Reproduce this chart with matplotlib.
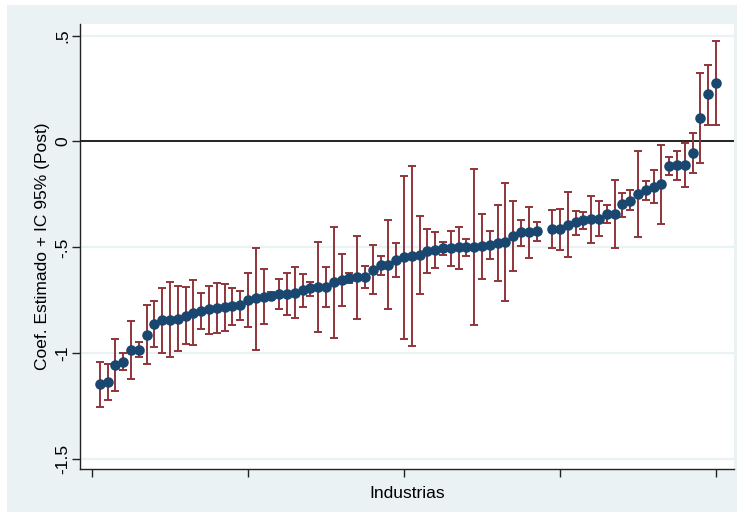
import numpy as np
import matplotlib
matplotlib.use("Agg")
import matplotlib.pyplot as plt
from matplotlib.patches import Rectangle

# Industry position (sorted by estimated coefficient); slot 58 has no estimate
industria = [1, 2, 3, 4, 5, 6, 7, 8, 9, 10, 11, 12, 13, 14, 15, 16, 17, 18, 19, 20,
             21, 22, 23, 24, 25, 26, 27, 28, 29, 30, 31, 32, 33, 34, 35, 36, 37, 38, 39, 40,
             41, 42, 43, 44, 45, 46, 47, 48, 49, 50, 51, 52, 53, 54, 55, 56, 57,
             59, 60, 61, 62, 63, 64, 65, 66, 67, 68, 69, 70, 71, 72, 73, 74, 75, 76, 77, 78, 79, 80]

coef = [-1.147, -1.136, -1.056, -1.042, -0.985, -0.985, -0.914, -0.862, -0.845, -0.842,
        -0.838, -0.823, -0.809, -0.799, -0.791, -0.785, -0.783, -0.779, -0.772, -0.747,
        -0.741, -0.736, -0.730, -0.719, -0.719, -0.716, -0.702, -0.694, -0.686, -0.686,
        -0.665, -0.654, -0.646, -0.641, -0.641, -0.606, -0.585, -0.582, -0.561, -0.546,
        -0.541, -0.535, -0.516, -0.511, -0.503, -0.503, -0.500, -0.500, -0.497, -0.495,
        -0.487, -0.479, -0.475, -0.446, -0.428, -0.428, -0.423,
        -0.415, -0.415, -0.393, -0.382, -0.372, -0.368, -0.365, -0.344, -0.344,
        -0.297, -0.280, -0.248, -0.231, -0.213, -0.202, -0.114, -0.111, -0.111, -0.054,
        0.111, 0.223, 0.278]

ic_inf = [-1.254, -1.221, -1.179, -1.081, -1.122, -1.019, -1.052, -0.972, -0.998, -1.017,
          -0.990, -0.957, -0.961, -0.884, -0.908, -0.903, -0.895, -0.867, -0.842, -0.876,
          -0.985, -0.864, -0.749, -0.791, -0.820, -0.835, -0.782, -0.728, -0.898, -0.780,
          -0.927, -0.778, -0.670, -0.837, -0.691, -0.722, -0.631, -0.791, -0.640, -0.933,
          -0.966, -0.719, -0.621, -0.598, -0.538, -0.587, -0.604, -0.542, -0.868, -0.648,
          -0.556, -0.659, -0.755, -0.610, -0.494, -0.552, -0.469,
          -0.503, -0.511, -0.544, -0.442, -0.413, -0.478, -0.448, -0.386, -0.505,
          -0.355, -0.325, -0.451, -0.278, -0.292, -0.390, -0.157, -0.180, -0.215, -0.150,
          -0.100, 0.079, 0.079]

ic_sup = [-1.043, -1.050, -0.931, -1.000, -0.848, -0.949, -0.774, -0.752, -0.691, -0.664,
          -0.681, -0.686, -0.654, -0.714, -0.681, -0.667, -0.672, -0.691, -0.705, -0.620,
          -0.502, -0.602, -0.709, -0.648, -0.620, -0.593, -0.624, -0.664, -0.475, -0.591,
          -0.405, -0.530, -0.620, -0.445, -0.588, -0.490, -0.542, -0.371, -0.481, -0.162,
          -0.114, -0.353, -0.413, -0.427, -0.473, -0.423, -0.402, -0.462, -0.130, -0.341,
          -0.421, -0.298, -0.195, -0.281, -0.369, -0.309, -0.379,
          -0.325, -0.317, -0.240, -0.327, -0.333, -0.256, -0.281, -0.302, -0.182,
          -0.242, -0.231, -0.046, -0.185, -0.136, -0.015, -0.072, -0.046, -0.006, 0.042,
          0.324, 0.363, 0.475]

y_ticks = [0.5, 0.0, -0.5, -1.0, -1.5]
y_ticklabels = [".5", "0", "-.5", "-1", "-1.5"]
x_ticks = [0, 20, 40, 60, 80]

BG = "#EAF2F3"
NAVY = "#1A476F"
MAROON = "#90353B"

plt.rcParams["font.family"] = ["Liberation Sans", "DejaVu Sans"]

fig = plt.figure(figsize=(7.40, 5.12), dpi=100, facecolor="white")
# graph region band
fig.patches.append(Rectangle((7 / 740, 0), 730 / 740, 507 / 512,
                             transform=fig.transFigure, facecolor=BG,
                             edgecolor="none", zorder=-10))

ax = fig.add_axes([80 / 740, 1 - 469 / 512, 654 / 740, 445 / 512])
ax.set_facecolor("white")

x = np.array(industria, dtype=float)
y = np.array(coef)
lo = np.array(ic_inf)
hi = np.array(ic_sup)

for yt in y_ticks:
    ax.axhline(yt, color=BG, lw=1.6, zorder=0.5)
ax.axhline(0, color="black", lw=1.2, zorder=1)

ax.errorbar(x, y, yerr=[y - lo, hi - y], fmt="none", ecolor=MAROON,
            elinewidth=1.4, capsize=2.7, capthick=1.4, zorder=2)
ax.plot(x, y, "o", color=NAVY, markersize=7.6, markeredgewidth=0, zorder=3)

ax.set_xlim(-1.54, 82.3)
ax.set_ylim(-1.547, 0.555)

ax.set_xticks(x_ticks)
ax.set_xticklabels([])
ax.set_yticks(y_ticks)
ax.set_yticklabels(y_ticklabels, rotation=90, va="center", fontsize=12.5)
ax.tick_params(axis="both", direction="out", length=6, width=1, color="#222222")
ax.tick_params(axis="y", pad=1)

for side in ("top", "right"):
    ax.spines[side].set_visible(False)
for side in ("left", "bottom"):
    ax.spines[side].set_color("#222222")
    ax.spines[side].set_linewidth(1)

ax.set_xlabel("Industrias", fontsize=12.5, labelpad=3)
ax.set_ylabel("Coef. Estimado + IC 95% (Post)", fontsize=12.5, labelpad=4)

fig.savefig("out.png", dpi=100, facecolor="white")
